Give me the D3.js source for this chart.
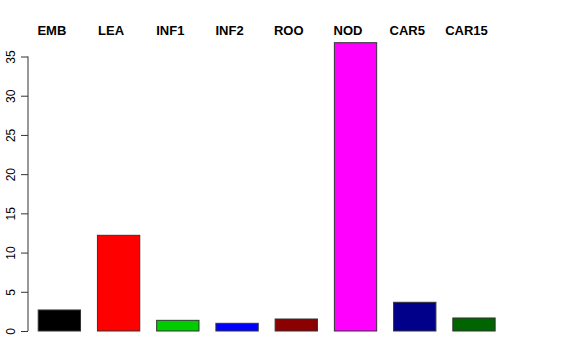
<!DOCTYPE html>
<html><head><meta charset="utf-8">
<script src="https://cdn.jsdelivr.net/npm/d3@7"></script>
<style>body{margin:0;background:#fff}svg{display:block}</style>
</head><body>
<script>
const categories = ["EMB","LEA","INF1","INF2","ROO","NOD","CAR5","CAR15"];
const values = [2.68, 12.2, 1.36, 0.98, 1.53, 36.76, 3.66, 1.66];
const colors = ["#000000","#FF0000","#00CD00","#0000FF","#8B0000","#FF00FF","#00008B","#006400"];
const yTicks = [0,5,10,15,20,25,30,35];

const W = 576, H = 360;
const svg = d3.select("body").append("svg").attr("width", W).attr("height", H);

const x = d3.scaleBand().domain(categories).range([29.75, 503.6])
  .paddingInner(0.2857).paddingOuter(0.1429);
const y = d3.scaleLinear().domain([0, 35]).range([331, 56.5]);

svg.selectAll("rect.bar").data(categories).join("rect")
  .attr("class","bar")
  .attr("x", d => x(d))
  .attr("width", x.bandwidth())
  .attr("y", (d,i) => y(values[i]))
  .attr("height", (d,i) => y(0) - y(values[i]))
  .attr("fill", (d,i) => colors[i])
  .attr("stroke", "#333")
  .attr("stroke-width", 1);

svg.selectAll("text.lab").data(categories).join("text")
  .attr("class","lab")
  .attr("x", d => x(d) + x.bandwidth()/2 - 7.5)
  .attr("y", 34.5)
  .attr("text-anchor","middle")
  .attr("font-family","Liberation Sans, Arial, sans-serif")
  .attr("font-weight","bold")
  .attr("font-size", 13)
  .text(d => d);

const axis = d3.axisLeft(y).tickValues(yTicks).tickSize(7).tickPadding(4);
const g = svg.append("g").attr("transform","translate(28,0)").call(axis);
g.select(".domain").attr("d", `M0,${y(0)}V${y(35)}`).attr("stroke","#333");
g.selectAll(".tick line").attr("stroke","#333");
g.selectAll(".tick text")
  .attr("font-family","Liberation Sans, Arial, sans-serif")
  .attr("font-size", 12)
  .attr("fill","#000")
  .attr("transform", "rotate(-90)")
  .attr("x", 0).attr("y", -13)
  .attr("dy", "0")
  .attr("text-anchor","middle");
</script>
</body></html>
